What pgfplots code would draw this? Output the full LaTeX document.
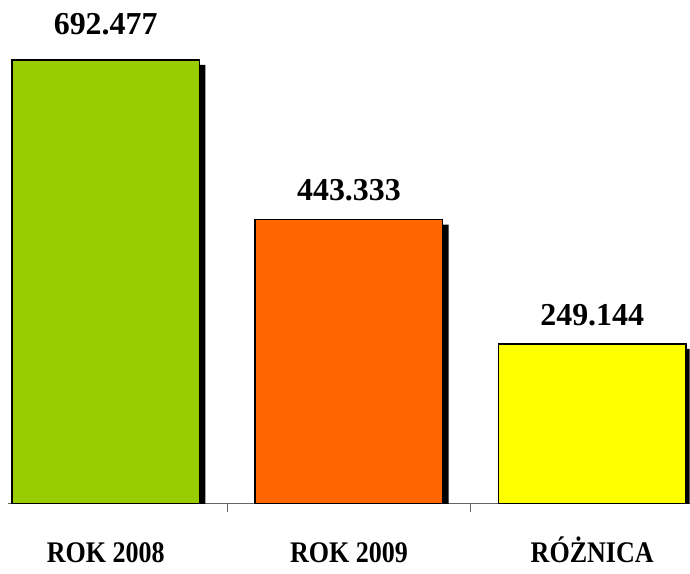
\documentclass[border=0pt]{standalone}
\usepackage{graphicx}
\usepackage{pgfplots}
\pgfplotsset{compat=1.18}
\usepackage{fontspec}
\setmainfont{Liberation Serif}
\definecolor{cgreen}{HTML}{99CC00}
\definecolor{corange}{HTML}{FF6600}
\definecolor{cyellow}{HTML}{FFFF00}
\begin{document}
\begin{tikzpicture}
\begin{axis}[
  scale only axis,
  width=683pt, height=505pt,
  xmin=-0.4, xmax=2.4,
  ymin=0, ymax=786,
  axis y line=none,
  axis x line*=bottom,
  axis line style={draw=gray!80!black, line width=1pt},
  xtick={0,1,2},
  xticklabels={\scalebox{0.87}[1]{ROK 2008}, \scalebox{0.87}[1]{ROK 2009}, \scalebox{0.87}[1]{RÓŻNICA}},
  major tick length=0pt,
  extra x ticks={0.5,1.5},
  extra x tick labels={},
  extra x tick style={major tick length=8pt, tick align=outside, tick style={draw=gray!80!black, line width=1pt}},
  xticklabel style={font=\fontsize{30}{30}\selectfont\bfseries, anchor=base, yshift=-59pt},
  ybar, bar width=188pt, bar shift=0pt,
  point meta=explicit symbolic,
  every node near coord/.append style={font=\fontsize{32}{32}\selectfont\bfseries, anchor=base, inner sep=0pt, black},
]
% shadows
\addplot[fill=black, draw=none, bar shift=6pt, yshift=-5pt] coordinates {(0,692.477) (1,443.333) (2,249.144)};
% bars
\addplot[fill=cgreen, draw=black, line width=1.5pt, nodes near coords, nodes near coords style={yshift=25pt}] coordinates {(0,692.477) [692.477]};
\addplot[fill=corange, draw=black, line width=1.5pt, nodes near coords, nodes near coords style={yshift=19pt}] coordinates {(1,443.333) [443.333]};
\addplot[fill=cyellow, draw=black, line width=1.5pt, nodes near coords, nodes near coords style={yshift=19pt}] coordinates {(2,249.144) [249.144]};
\end{axis}
\path[use as bounding box] (-8.4pt,-55pt) rectangle (681.6pt,505pt);
\end{tikzpicture}
\end{document}
